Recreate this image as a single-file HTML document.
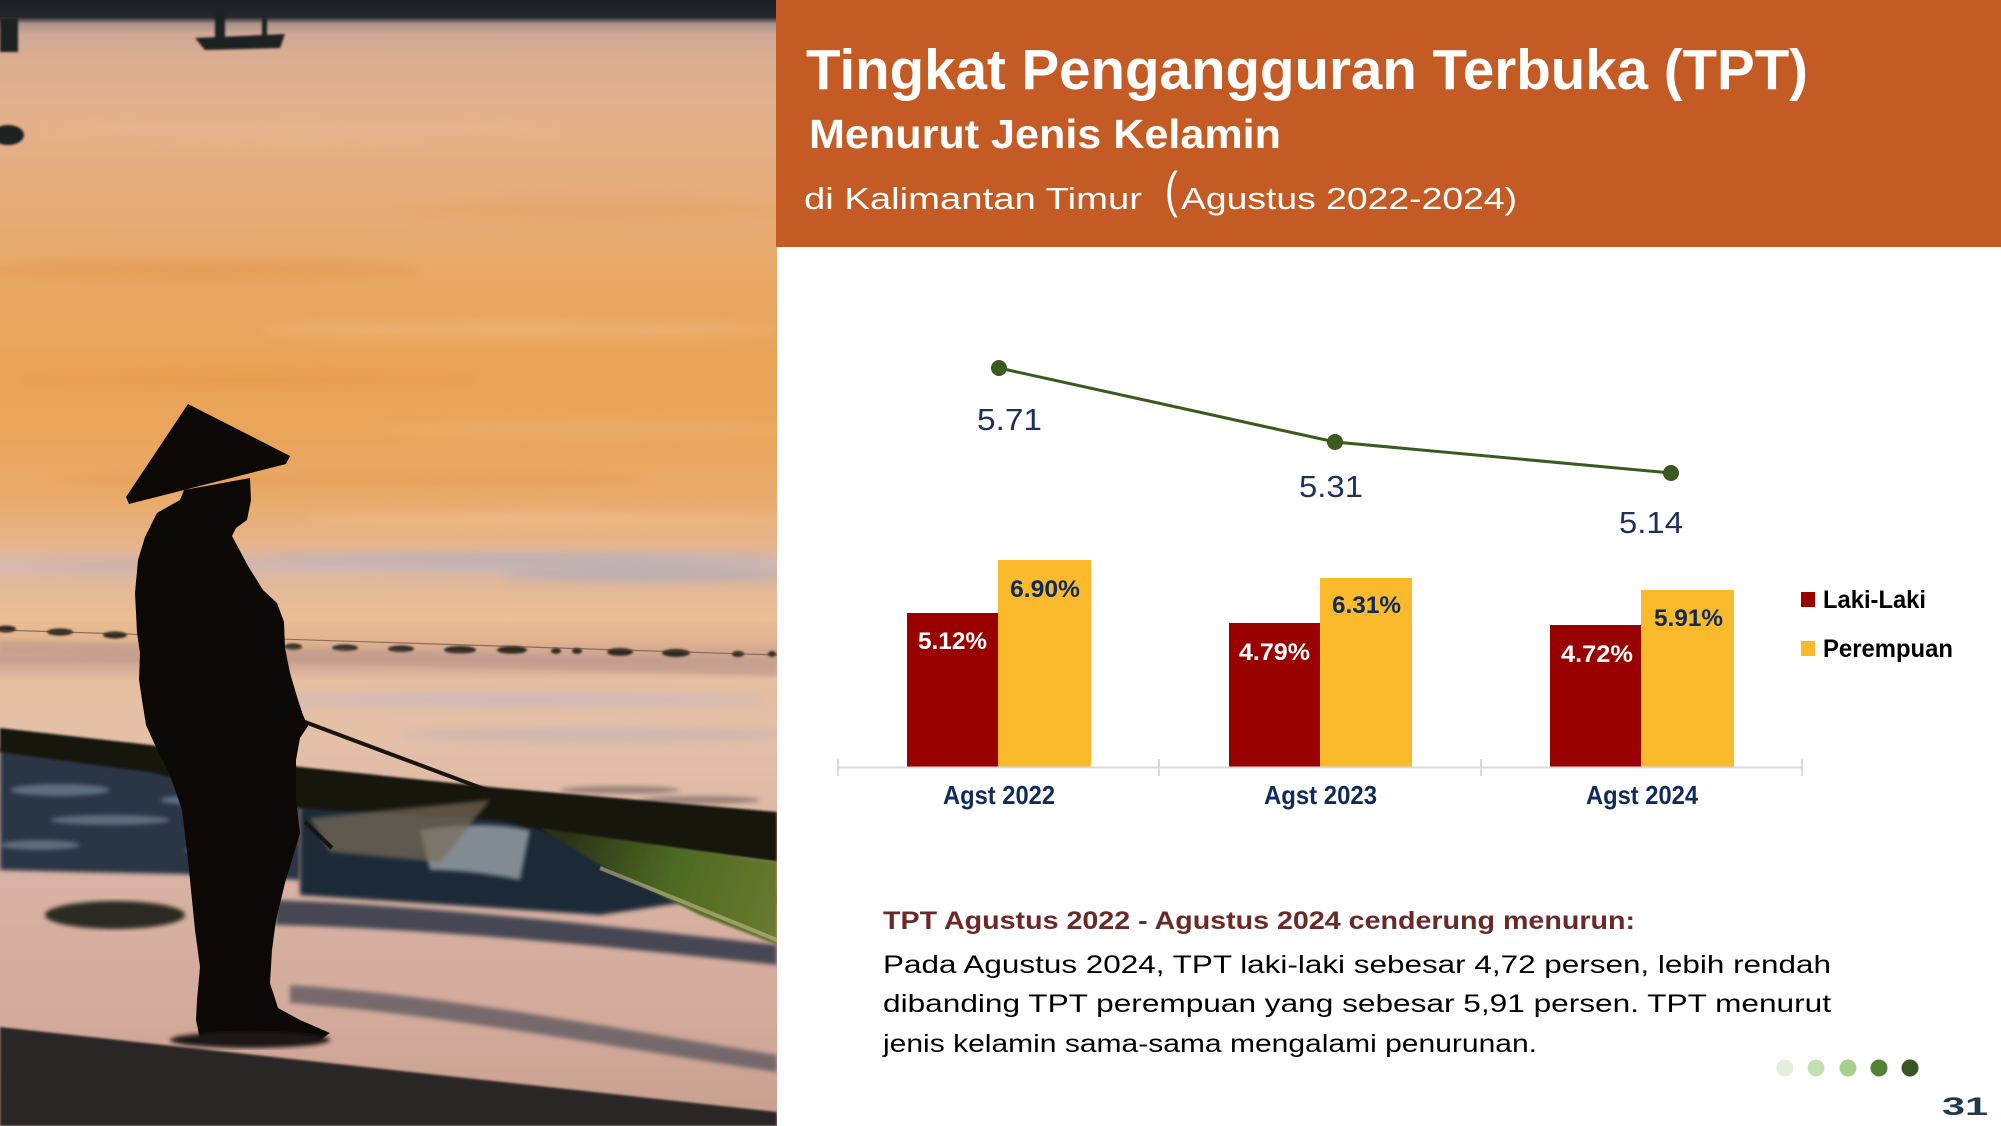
<!DOCTYPE html>
<html><head><meta charset="utf-8"><style>
html,body{margin:0;padding:0;background:#fff;}
svg{display:block;}
text{font-family:"Liberation Sans",Arial,sans-serif;}
</style></head><body>
<svg width="2001" height="1126" viewBox="0 0 2001 1126" xmlns="http://www.w3.org/2000/svg">
<defs>
<linearGradient id="sea" x1="0" y1="0" x2="0" y2="1126" gradientUnits="userSpaceOnUse">
<stop offset="0" stop-color="#1c1f27"/>
<stop offset="0.015" stop-color="#23252c"/>
<stop offset="0.021" stop-color="#a89088"/>
<stop offset="0.030" stop-color="#d0a896"/>
<stop offset="0.053" stop-color="#dcae92"/>
<stop offset="0.107" stop-color="#e3b08a"/>
<stop offset="0.178" stop-color="#e6ad7a"/>
<stop offset="0.249" stop-color="#e8a865"/>
<stop offset="0.320" stop-color="#e9a458"/>
<stop offset="0.391" stop-color="#eaa55c"/>
<stop offset="0.444" stop-color="#e9ab6c"/>
<stop offset="0.484" stop-color="#e6b48c"/>
<stop offset="0.502" stop-color="#d6b8b0"/>
<stop offset="0.520" stop-color="#e2b898"/>
<stop offset="0.551" stop-color="#ecbe94"/>
<stop offset="0.568" stop-color="#e2b490"/>
<stop offset="0.586" stop-color="#c8a090"/>
<stop offset="0.604" stop-color="#e6bea0"/>
<stop offset="0.657" stop-color="#e4c0a8"/>
<stop offset="0.782" stop-color="#d8b2a4"/>
<stop offset="0.888" stop-color="#d4ab9c"/>
<stop offset="1" stop-color="#c8a090"/>
</linearGradient>
<linearGradient id="netg" x1="560" y1="840" x2="780" y2="920" gradientUnits="userSpaceOnUse">
<stop offset="0" stop-color="#2a3018"/>
<stop offset="0.5" stop-color="#4d6a22"/>
<stop offset="1" stop-color="#6a7a30"/>
</linearGradient>
<filter id="b2" x="-10%" y="-10%" width="120%" height="120%"><feGaussianBlur stdDeviation="2"/></filter>
<filter id="b5" x="-20%" y="-50%" width="140%" height="200%"><feGaussianBlur stdDeviation="5"/></filter>
<filter id="b1"><feGaussianBlur stdDeviation="1"/></filter>
<clipPath id="pc"><rect x="0" y="0" width="777" height="1126"/></clipPath>
</defs>

<rect x="0" y="0" width="2001" height="1126" fill="#ffffff"/>

<!-- PHOTO -->
<g clip-path="url(#pc)">
<rect x="0" y="0" width="777" height="1126" fill="url(#sea)"/>
<!-- sea texture streaks -->
<g filter="url(#b5)" opacity="0.55">
<ellipse cx="300" cy="130" rx="260" ry="10" fill="#e8b890"/>
<ellipse cx="600" cy="210" rx="200" ry="9" fill="#e6a060"/>
<ellipse cx="200" cy="270" rx="220" ry="10" fill="#e49850"/>
<ellipse cx="520" cy="330" rx="260" ry="9" fill="#eeb880"/>
<ellipse cx="250" cy="380" rx="230" ry="8" fill="#e5994c"/>
<ellipse cx="600" cy="430" rx="220" ry="9" fill="#eab070"/>
<ellipse cx="350" cy="480" rx="300" ry="8" fill="#e79e52"/>
<ellipse cx="550" cy="520" rx="240" ry="7" fill="#f0c090"/>
</g>
<!-- lavender streaks -->
<g filter="url(#b5)" opacity="0.7">
<ellipse cx="520" cy="560" rx="260" ry="8" fill="#b8b0b8"/>
<ellipse cx="650" cy="575" rx="150" ry="6" fill="#a8a8b8"/>
<ellipse cx="150" cy="565" rx="120" ry="5" fill="#c8b0a8"/>
<ellipse cx="520" cy="700" rx="250" ry="8" fill="#c8b8c0"/>
<ellipse cx="600" cy="735" rx="200" ry="6" fill="#c0b0b8"/>
</g>
<!-- float line -->
<g fill="#2e2a22" filter="url(#b1)">
<ellipse cx="6" cy="629" rx="10" ry="3.5"/>
<ellipse cx="60" cy="632" rx="13" ry="3.5"/>
<ellipse cx="115" cy="635" rx="12" ry="3.5"/>
<ellipse cx="293" cy="647" rx="9" ry="3.5"/>
<ellipse cx="345" cy="648" rx="13" ry="3.5"/>
<ellipse cx="401" cy="649" rx="13" ry="3.5"/>
<ellipse cx="460" cy="650" rx="16" ry="4"/>
<ellipse cx="512" cy="650" rx="15" ry="4"/>
<ellipse cx="556" cy="651" rx="5" ry="3"/>
<ellipse cx="577" cy="651" rx="5" ry="3"/>
<ellipse cx="620" cy="652" rx="13" ry="4"/>
<ellipse cx="676" cy="653" rx="14" ry="4"/>
<ellipse cx="738" cy="654" rx="6" ry="3"/>
<ellipse cx="772" cy="654" rx="4" ry="3"/>
</g>
<path d="M0,630 L777,655" stroke="#5a4030" stroke-width="1.2" opacity="0.6"/>
<path d="M0,640 L777,662 L777,676 L0,654 Z" fill="#c09a8c" opacity="0.6" filter="url(#b2)"/>
<!-- left waves dark -->
<path d="M0,748 L150,758 L300,782 L300,880 L180,874 L80,872 L0,870 Z" fill="#2b3645" filter="url(#b2)"/>
<g fill="#8a9cb0" opacity="0.55" filter="url(#b2)">
<ellipse cx="60" cy="790" rx="50" ry="6"/>
<ellipse cx="110" cy="820" rx="60" ry="5"/>
<ellipse cx="40" cy="845" rx="40" ry="5"/>
<ellipse cx="200" cy="800" rx="40" ry="5"/>
<ellipse cx="230" cy="850" rx="45" ry="5"/>
</g>
<!-- waves middle -->
<path d="M300,800 L500,812 L620,840 L700,900 L600,915 L450,905 L300,895 Z" fill="#1e2a38" filter="url(#b2)"/>
<path d="M420,830 Q480,820 530,830 L520,880 Q470,870 430,870 Z" fill="#c8ccd0" opacity="0.6" filter="url(#b2)"/>
<!-- right side foam -->
<g fill="#5a5050" opacity="0.5" filter="url(#b2)">
<ellipse cx="620" cy="790" rx="60" ry="4"/>
<ellipse cx="700" cy="800" rx="60" ry="4"/>
<ellipse cx="740" cy="900" rx="50" ry="10"/>
</g>
<!-- sand dark wave lines -->
<path d="M275,900 C420,905 600,925 777,945 L777,965 C600,945 420,928 275,925 Z" fill="#2e3646" opacity="0.85" filter="url(#b2)"/>
<path d="M290,985 C450,995 650,1035 777,1055 L777,1072 C640,1052 450,1015 290,1003 Z" fill="#3a4050" opacity="0.6" filter="url(#b2)"/>
<ellipse cx="115" cy="915" rx="70" ry="14" fill="#2a2a22" filter="url(#b2)"/>
<!-- bottom shadow -->
<path d="M0,1027 L777,1112 L777,1126 L0,1126 Z" fill="#2c2826" filter="url(#b1)"/>
<!-- dark net band -->
<path d="M0,728 L150,745 L300,767 L500,788 L777,812 L777,862 L560,835 L500,820 L300,808 L150,772 L0,752 Z" fill="#141210" filter="url(#b1)"/>
<!-- net mesh -->
<path d="M310,818 L490,800 L440,862 L330,852 Z" fill="#7a6c58" opacity="0.7" filter="url(#b2)"/>
<!-- green net -->
<path d="M540,828 L777,862 L777,945 L700,915 L600,865 Z" fill="url(#netg)" filter="url(#b1)"/>
<path d="M600,868 L777,940" stroke="#c8b890" stroke-width="4" opacity="0.6"/>
<!-- silhouette -->
<g fill="#0c0806">
<path d="M188,404 L126,497 L129,504 L286,464 L290,456 Z"/>
<path d="M180,500 L184,490 L250,478 L251,500 L247,520 L236,528 L232,536 L248,566 L263,590 L277,603 L284,622 L285,648 L290,673 L298,700 L303,715 L308,726 L300,738 L296,760 L296,800 L300,833 L292,860 L285,883 L276,920 L272,950 L270,983 L278,1008 L300,1020 L330,1033 L320,1040 L260,1040 L200,1040 L196,1020 L197,1000 L200,967 L195,930 L192,900 L188,860 L182,810 L170,775 L155,745 L146,725 L142,700 L139,680 L140,653 L137,633 L135,593 L138,560 L145,537 L157,513 Z"/>
</g>
<ellipse cx="250" cy="1040" rx="80" ry="8" fill="#1a1412" filter="url(#b2)"/>
<!-- rod -->
<path d="M305,722 L500,795" stroke="#1a1410" stroke-width="4"/>
<path d="M305,822 L332,848" stroke="#1a1410" stroke-width="4"/>
<!-- boats -->
<g fill="#1e2420" filter="url(#b1)">
<path d="M195,38 L285,34 L280,48 L205,50 Z"/>
<rect x="215" y="14" width="10" height="26"/>
<rect x="262" y="18" width="5" height="20"/>
<rect x="0" y="18" width="18" height="34"/>
<ellipse cx="8" cy="135" rx="16" ry="10"/>
</g>
</g>

<!-- HEADER -->
<rect x="776" y="0" width="1225" height="247" fill="#c45a24"/>
<text x="806" y="89" font-size="57" font-weight="bold" fill="#ffffff" textLength="1002" lengthAdjust="spacingAndGlyphs">Tingkat Pengangguran Terbuka (TPT)</text>
<text x="809" y="148" font-size="41" font-weight="bold" fill="#ffffff" textLength="472" lengthAdjust="spacingAndGlyphs">Menurut Jenis Kelamin</text>
<text x="804" y="209" font-size="31" fill="#ffffff" textLength="338" lengthAdjust="spacingAndGlyphs">di Kalimantan Timur</text>
<text x="1165" y="207" font-size="50" fill="#ffffff" textLength="13" lengthAdjust="spacingAndGlyphs">(</text>
<text x="1181" y="209" font-size="31" fill="#ffffff" textLength="336" lengthAdjust="spacingAndGlyphs">Agustus 2022-2024)</text>

<!-- CHART -->
<rect x="907" y="613" width="91" height="154" fill="#990000"/>
<rect x="998" y="560" width="93" height="207" fill="#fbba2b"/>
<rect x="1229" y="623" width="91" height="144" fill="#990000"/>
<rect x="1320" y="578" width="92" height="189" fill="#fbba2b"/>
<rect x="1550" y="625" width="91" height="142" fill="#990000"/>
<rect x="1641" y="590" width="93" height="177" fill="#fbba2b"/>

<line x1="838" y1="767.5" x2="1802" y2="767.5" stroke="#d9d9d9" stroke-width="2"/>
<g stroke="#d9d9d9" stroke-width="2">
<line x1="838" y1="759" x2="838" y2="776"/>
<line x1="1159" y1="759" x2="1159" y2="776"/>
<line x1="1481" y1="759" x2="1481" y2="776"/>
<line x1="1802" y1="759" x2="1802" y2="776"/>
</g>

<g font-size="24" font-weight="bold">
<text x="918" y="649" fill="#ffffff" textLength="69" lengthAdjust="spacingAndGlyphs">5.12%</text>
<text x="1010" y="597" fill="#0f2a5a" textLength="70" lengthAdjust="spacingAndGlyphs">6.90%</text>
<text x="1239" y="660" fill="#ffffff" textLength="71" lengthAdjust="spacingAndGlyphs">4.79%</text>
<text x="1332" y="613" fill="#0f2a5a" textLength="69" lengthAdjust="spacingAndGlyphs">6.31%</text>
<text x="1561" y="662" fill="#ffffff" textLength="72" lengthAdjust="spacingAndGlyphs">4.72%</text>
<text x="1654" y="626" fill="#0f2a5a" textLength="69" lengthAdjust="spacingAndGlyphs">5.91%</text>
</g>

<g font-size="26" font-weight="bold" fill="#102a5c">
<text x="943" y="804" textLength="112" lengthAdjust="spacingAndGlyphs">Agst 2022</text>
<text x="1264" y="804" textLength="113" lengthAdjust="spacingAndGlyphs">Agst 2023</text>
<text x="1586" y="804" textLength="112" lengthAdjust="spacingAndGlyphs">Agst 2024</text>
</g>

<polyline points="999,368 1335,442 1671,473" fill="none" stroke="#3b5a1e" stroke-width="3"/>
<g fill="#3b5a1e">
<circle cx="999" cy="368" r="8"/>
<circle cx="1335" cy="442" r="8"/>
<circle cx="1671" cy="473" r="8"/>
</g>
<g font-size="31" fill="#1f2f5e">
<text x="977" y="430" textLength="65" lengthAdjust="spacingAndGlyphs">5.71</text>
<text x="1299" y="497" textLength="64" lengthAdjust="spacingAndGlyphs">5.31</text>
<text x="1619" y="533" textLength="64" lengthAdjust="spacingAndGlyphs">5.14</text>
</g>

<!-- legend -->
<rect x="1801" y="592" width="14" height="15" fill="#990000"/>
<rect x="1801" y="641" width="14" height="15" fill="#fbba2b"/>
<g font-size="25" font-weight="bold" fill="#000000">
<text x="1823" y="608" textLength="103" lengthAdjust="spacingAndGlyphs">Laki-Laki</text>
<text x="1823" y="657" textLength="130" lengthAdjust="spacingAndGlyphs">Perempuan</text>
</g>

<!-- TEXT BLOCK -->
<text x="883" y="929" font-size="25" font-weight="bold" fill="#6a2a28" textLength="752" lengthAdjust="spacingAndGlyphs">TPT Agustus 2022 - Agustus 2024 cenderung menurun:</text>
<g font-size="25" fill="#000000">
<text x="883" y="973" textLength="948" lengthAdjust="spacingAndGlyphs">Pada Agustus 2024, TPT laki-laki sebesar 4,72 persen, lebih rendah</text>
<text x="883" y="1012" textLength="948" lengthAdjust="spacingAndGlyphs">dibanding TPT perempuan yang sebesar 5,91 persen. TPT menurut</text>
<text x="883" y="1052" textLength="654" lengthAdjust="spacingAndGlyphs">jenis kelamin sama-sama mengalami penurunan.</text>
</g>

<!-- dots -->
<circle cx="1785" cy="1068" r="8.5" fill="#e2efd9"/>
<circle cx="1816" cy="1068" r="8.5" fill="#c5e0b3"/>
<circle cx="1848" cy="1068" r="8.5" fill="#a8d08d"/>
<circle cx="1879" cy="1068" r="8.5" fill="#548235"/>
<circle cx="1910" cy="1068" r="8.5" fill="#375623"/>

<text x="1942" y="1115" font-size="25" font-weight="bold" fill="#1f3a50" textLength="46" lengthAdjust="spacingAndGlyphs">31</text>
</svg>
</body></html>
